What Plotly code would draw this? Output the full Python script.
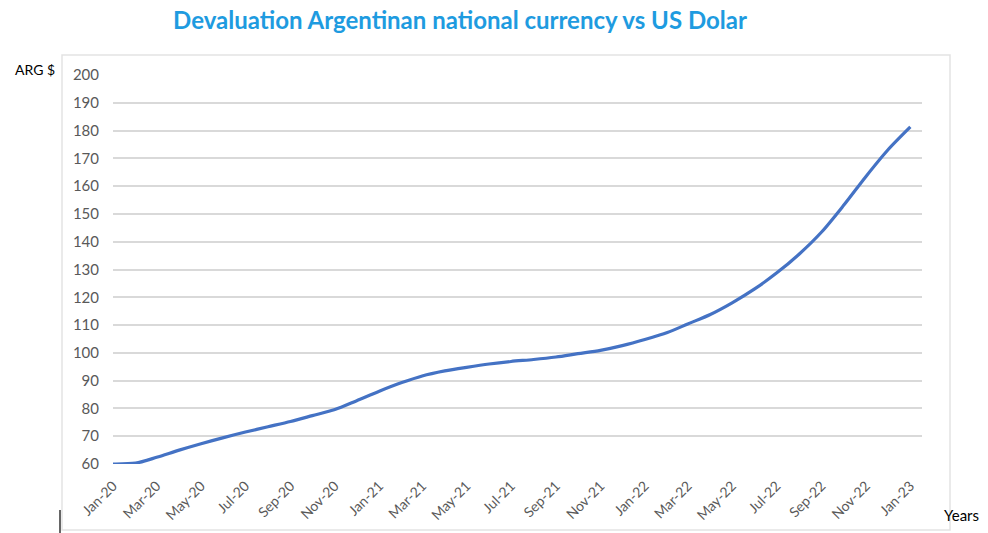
import plotly.graph_objects as go

# ---- data ----
dates = [
    "2020-01-01", "2020-02-01", "2020-03-01", "2020-04-01", "2020-05-01", "2020-06-01",
    "2020-07-01", "2020-08-01", "2020-09-01", "2020-10-01", "2020-11-01", "2020-12-01",
    "2021-01-01", "2021-02-01", "2021-03-01", "2021-04-01", "2021-05-01", "2021-06-01",
    "2021-07-01", "2021-08-01", "2021-09-01", "2021-10-01", "2021-11-01", "2021-12-01",
    "2022-01-01", "2022-02-01", "2022-03-01", "2022-04-01", "2022-05-01", "2022-06-01",
    "2022-07-01", "2022-08-01", "2022-09-01", "2022-10-01", "2022-11-01", "2022-12-01",
    "2023-01-01",
]
ars_per_usd = [
    60.0, 60.3, 62.4, 65.0, 67.3, 69.5,
    71.5, 73.4, 75.3, 77.4, 79.6, 82.8,
    86.2, 89.3, 91.7, 93.5, 94.8, 96.0,
    96.9, 97.6, 98.5, 99.7, 100.9, 102.6,
    104.8, 107.3, 110.4, 113.8, 118.0, 123.0,
    128.7, 135.5, 143.5, 153.0, 163.5, 173.0,
    181.3,
]
tick_dates = [
    "2020-01-01", "2020-03-01", "2020-05-01", "2020-07-01", "2020-09-01", "2020-11-01",
    "2021-01-01", "2021-03-01", "2021-05-01", "2021-07-01", "2021-09-01", "2021-11-01",
    "2022-01-01", "2022-03-01", "2022-05-01", "2022-07-01", "2022-09-01", "2022-11-01",
    "2023-01-01",
]
tick_labels = [
    "Jan-20", "Mar-20", "May-20", "Jul-20", "Sep-20", "Nov-20",
    "Jan-21", "Mar-21", "May-21", "Jul-21", "Sep-21", "Nov-21",
    "Jan-22", "Mar-22", "May-22", "Jul-22", "Sep-22", "Nov-22",
    "Jan-23",
]
y_ticks = [60, 70, 80, 90, 100, 110, 120, 130, 140, 150, 160, 170, 180, 190, 200]

title_text = "Devaluation Argentinan national currency vs US Dolar"
y_label = "ARG $"
x_label = "Years"

FONT = "Lato"
GRAY = "#595959"
GRID = "#d9d9d9"

fig = go.Figure()
fig.add_trace(go.Scatter(
    x=dates, y=ars_per_usd, mode="lines",
    line=dict(color="#4472C4", width=3.2, shape="spline", smoothing=0.8),
    showlegend=False, hoverinfo="x+y",
))

# body margin is removed by the post_script below, so screen px == figure px
W, H = 988, 533
L, R, T, B = 113, 66, 75, 69
pw = W - L - R
ph = H - T - B

def px(xpix):  # screen pixel -> paper x
    return (xpix - L) / pw

def py(ypix):  # screen pixel -> paper y
    return (H - B - ypix) / ph

fig.update_layout(
    width=W, height=H,
    margin=dict(l=L, r=R, t=T, b=B, autoexpand=False),
    paper_bgcolor="white", plot_bgcolor="white",
    font=dict(family=FONT, color=GRAY, size=14),
    title=dict(
        text="<b>" + title_text + "</b>",
        font=dict(family=FONT, size=24, color="#1E9BE0"),
        x=460 / W, xref="container", xanchor="center",
        y=1 - 21 / H, yref="container", yanchor="middle",
    ),
    xaxis=dict(
        type="date",
        range=["2020-01-01", "2023-01-17"],
        tickvals=tick_dates, ticktext=tick_labels,
        tickangle=-45, showgrid=False,
        showline=False, zeroline=False,
        ticks="", ticklabelstandoff=10,
        tickfont=dict(family=FONT, size=14, color=GRAY),
    ),
    yaxis=dict(
        range=[60, 200], tickvals=y_ticks,
        showgrid=True, gridcolor=GRID, gridwidth=1.5,
        zeroline=False, showline=False, ticks="",
        ticklabelstandoff=13,
        tickfont=dict(family=FONT, size=15, color=GRAY),
    ),
    annotations=[
        dict(text=y_label, xref="paper", yref="paper", x=px(35), y=py(69),
             xanchor="center", yanchor="middle", showarrow=False,
             font=dict(family=FONT, size=14, color="black")),
        dict(text=x_label, xref="paper", yref="paper", x=px(962), y=py(515),
             xanchor="center", yanchor="middle", showarrow=False,
             font=dict(family=FONT, size=15, color="black")),
    ],
    shapes=[
        dict(type="rect", xref="paper", yref="paper",
             x0=px(62), x1=px(950), y0=py(530), y1=py(55),
             line=dict(color="#e3e3e3", width=1.5), layer="below"),
        dict(type="line", xref="paper", yref="paper",
             x0=px(60), x1=px(60), y0=py(510), y1=py(533),
             line=dict(color="#333333", width=1.5)),
    ],
)

fig.write_html("out.html",
               config={"displayModeBar": False},
               post_script="document.body.style.margin='0px';document.body.style.overflow='hidden';")
